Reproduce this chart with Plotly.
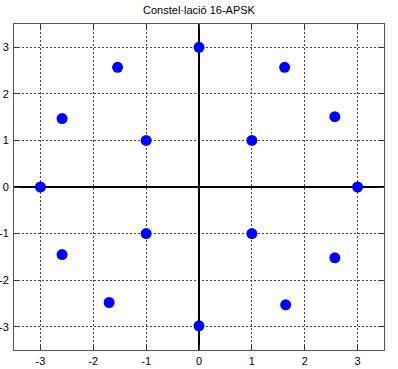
import plotly.graph_objects as go

x_vals = [0.0, 1.62, 2.57, 3.0, 2.57, 1.64, 0.0, -1.70, -2.59, -3.0, -2.59, -1.54,
          1.0, -1.0, -1.0, 1.0]
y_vals = [3.0, 2.57, 1.51, 0.0, -1.52, -2.53, -2.98, -2.48, -1.45, 0.0, 1.47, 2.57,
          1.0, 1.0, -1.0, -1.0]
tick_vals = [-3, -2, -1, 0, 1, 2, 3]
tick_text = ["-3", "-2", "-1", "0", "1", "2", "3"]
title_text = "Constel·lació 16-APSK"

fig = go.Figure()
fig.add_trace(go.Scatter(x=x_vals, y=y_vals, mode="markers",
                         marker=dict(color="#0000ff", size=11, line=dict(width=0))))

axis_common = dict(
    range=[-3.5, 3.5], tickvals=tick_vals, ticktext=tick_text, ticks="inside", ticklen=5,
    tickcolor="#333333", showline=True, linecolor="#555555", linewidth=1, mirror="ticks",
    showgrid=True, gridcolor="#444444", gridwidth=1, griddash="2px,2px",
    zeroline=True, zerolinecolor="#000000", zerolinewidth=2, automargin=False,
    tickfont=dict(family="Arial, Liberation Sans", size=11, color="#000000"),
)
fig.update_xaxes(ticklabelstandoff=1, **axis_common)
fig.update_yaxes(ticklabelstandoff=2, **axis_common)

fig.update_layout(
    width=398, height=369,
    margin=dict(l=14, r=14, t=24, b=19),
    paper_bgcolor="white", plot_bgcolor="white",
    showlegend=False,
    title=dict(text=title_text, x=0.5, xanchor="center", y=1 - 10/369, yanchor="middle",
               font=dict(family="Arial, Liberation Sans", size=11, color="#000000")),
)
fig.write_html("out.html", config={"displayModeBar": False},
               post_script="document.body.style.margin='0px';document.body.style.padding='0px';")
